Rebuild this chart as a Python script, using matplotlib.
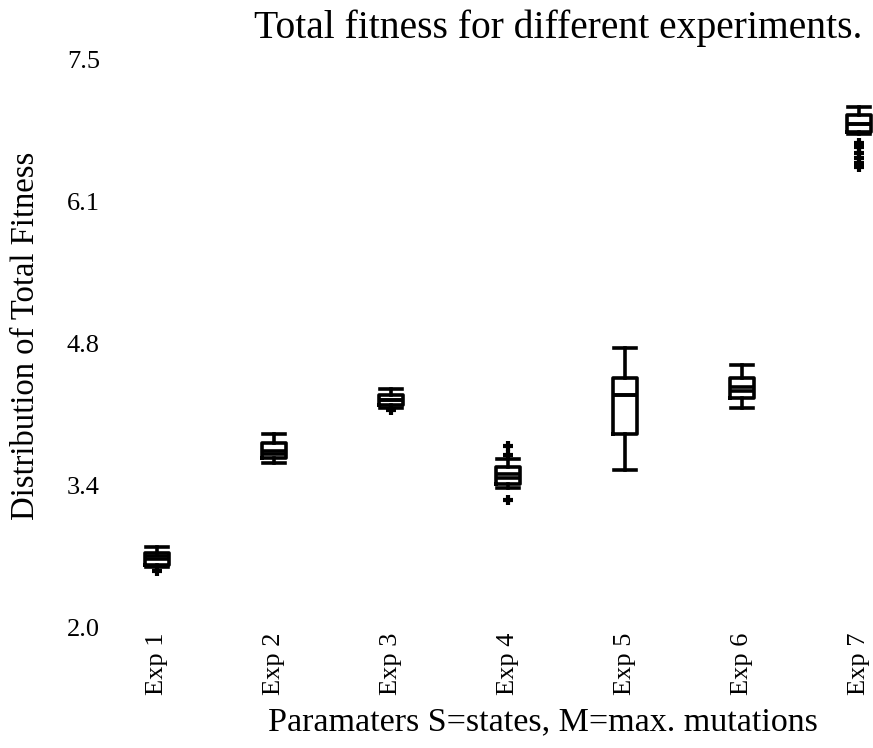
import matplotlib
matplotlib.use("Agg")
import matplotlib.pyplot as plt

labels = ["Exp 1", "Exp 2", "Exp 3", "Exp 4", "Exp 5", "Exp 6", "Exp 7"]
whislo = [2.585, 3.591, 4.129, 3.351, 3.523, 4.121, 6.782]
q1 = [2.601, 3.642, 4.156, 3.387, 3.875, 4.218, 6.806]
med = [2.657, 3.678, 4.202, 3.448, 4.247, 4.289, 6.879]
mean = [2.690, 3.710, 4.202, 3.481, 4.247, 4.325, 6.879]
q3 = [2.715, 3.785, 4.247, 3.555, 4.418, 4.418, 6.966]
whishi = [2.773, 3.869, 4.306, 3.627, 4.703, 4.541, 7.040]
fliers = [[2.546], [], [4.105], [3.760, 3.668, 3.232], [], [],
          [6.695, 6.656, 6.60, 6.55, 6.50, 6.46]]
yticks = [2.0, 3.375, 4.75, 6.125, 7.5]
ytick_labels = ["2.0", "3.4", "4.8", "6.1", "7.5"]

plt.rcParams["font.family"] = ["Liberation Serif", "DejaVu Serif"]

fig = plt.figure(figsize=(8.73, 7.48), dpi=100)
W, H = 873, 748
left, right, top, bottom = 98.5, 873, 60, 627
ax = fig.add_axes([left / W, (H - bottom) / H, (right - left) / W, (bottom - top) / H])

stats = []
for i in range(len(labels)):
    stats.append(dict(label=labels[i], whislo=whislo[i], q1=q1[i], med=med[i],
                      mean=mean[i], q3=q3[i], whishi=whishi[i], fliers=fliers[i]))

lw = 2.6
ax.bxp(stats, positions=range(1, 8), widths=0.2, showmeans=True, meanline=True,
       boxprops=dict(color="black", linewidth=lw),
       whiskerprops=dict(color="black", linewidth=lw),
       capprops=dict(color="black", linewidth=lw),
       medianprops=dict(color="black", linewidth=lw),
       meanprops=dict(color="black", linewidth=lw, linestyle="-"),
       flierprops=dict(marker="+", markersize=7, markeredgewidth=3,
                       markeredgecolor="black"),
       capwidths=0.19)

ax.set_xlim(0.5, 0.5 + (right - left) / 117.0)
ax.set_ylim(2.0, 7.5)
ax.set_yticks(yticks)
ax.set_yticklabels(ytick_labels)
ax.set_xticks(range(1, 8))
ax.set_xticklabels(labels, rotation=90)
ax.tick_params(axis="both", length=0, labelsize=19)
ax.tick_params(axis="y", pad=-1)
ax.tick_params(axis="x", pad=4)
for s in ax.spines.values():
    s.set_visible(False)

fig.text(558 / W, 1 - 28 / H, "Total fitness for different experiments.",
         ha="center", va="center", fontsize=28.5)
fig.text(543 / W, 1 - 722 / H, "Paramaters S=states, M=max. mutations",
         ha="center", va="center", fontsize=24.5)
fig.text(26 / W, 1 - 336 / H, "Distribution of Total Fitness",
         ha="center", va="center", rotation=90, fontsize=23.5)

fig.savefig("out.png", dpi=100)
